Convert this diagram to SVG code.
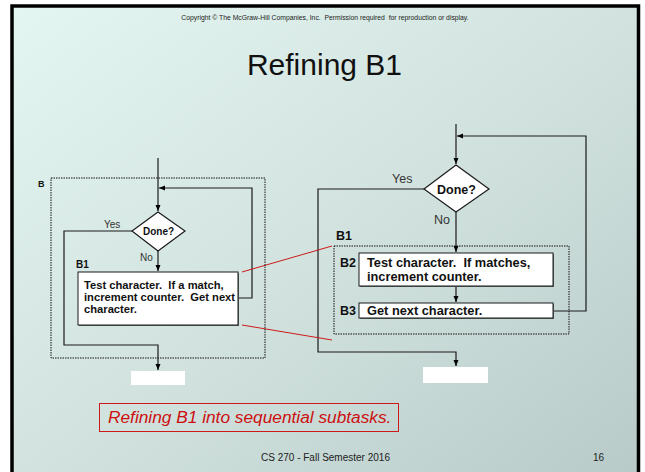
<svg xmlns="http://www.w3.org/2000/svg" width="645" height="472" viewBox="0 0 645 472">
<defs>
<linearGradient id="bg" x1="0" y1="0" x2="1" y2="1">
<stop offset="0" stop-color="#e4f6f1"/>
<stop offset="0.5" stop-color="#d2e3df"/>
<stop offset="1" stop-color="#b7cac8"/>
</linearGradient>
<marker id="arr" markerUnits="userSpaceOnUse" markerWidth="8" markerHeight="8" viewBox="0 0 8 8" refX="7" refY="4" orient="auto">
<path d="M1,1.5 L7,4 L1,6.5 Z" fill="#000"/>
</marker>
<style>
.ln{fill:none;stroke:#1a1a1a;stroke-width:1.2}
.dot{fill:none;stroke:#111;stroke-width:1;stroke-dasharray:1.5 1}
.box{fill:#fff;stroke:#1a1a1a;stroke-width:1}
.sh{fill:#5a6665}
.wh{fill:#fff}
.red{stroke:#cc1a1a;stroke-width:1;fill:none}
text{font-family:"Liberation Sans",Arial,sans-serif;white-space:pre}
.b{font-weight:bold;fill:#111}
.lab{fill:#333}
</style>
</defs>
<rect x="0" y="0" width="645" height="472" fill="#fff"/>
<rect x="12" y="6" width="626.5" height="480" fill="url(#bg)" stroke="#000" stroke-width="3.5"/>
<text x="325" y="19.5" font-size="6.8" text-anchor="middle" fill="#222">Copyright © The McGraw-Hill Companies, Inc.  Permission required  for reproduction or display.</text>
<text x="324.5" y="75" font-size="30" text-anchor="middle" fill="#111">Refining B1</text>

<g id="connectors">
<path class="ln" d="M158,158 V211" marker-end="url(#arr)"/>
<path class="ln" d="M239,298 H252 V188 H159" marker-end="url(#arr)"/>
<path class="ln" d="M132,231 H64 V345 H158 V370" marker-end="url(#arr)"/>
<path class="ln" d="M158,251 V271" marker-end="url(#arr)"/>
<path class="ln" d="M456,124 V164" marker-end="url(#arr)"/>
<path class="ln" d="M553,311 H586 V136 H457" marker-end="url(#arr)"/>
<path class="ln" d="M424,189 H318 V352 H456 V366" marker-end="url(#arr)"/>
<path class="ln" d="M456,212 V252" marker-end="url(#arr)"/>
<path class="ln" d="M456,286 V302" marker-end="url(#arr)"/>
<path class="red" d="M242,272 L332,246"/>
<path class="red" d="M242,325 L332,340"/>
</g>

<g id="B">
<rect class="dot" x="51" y="178" width="214" height="180"/>
<text class="b" x="38" y="187" font-size="9">B</text>
</g>
<g id="doneL">
<polygon points="158,212 185,231 158,251 132,231" fill="#fff" stroke="#1a1a1a" stroke-width="1.2"/>
<text class="b" x="158.5" y="234.5" font-size="10" text-anchor="middle">Done?</text>
<text class="lab" x="104" y="228" font-size="10">Yes</text>
<text class="lab" x="140" y="261" font-size="10">No</text>
</g>
<g id="B1L">
<text class="b" x="76" y="268" font-size="10">B1</text>
<rect class="sh" x="79" y="273" width="160" height="53"/>
<rect class="box" x="78" y="272" width="160" height="53"/>
<text class="b" x="84" y="289" font-size="11.2">Test character.  If a match,</text>
<text class="b" x="84" y="301" font-size="11.2">increment counter.  Get next</text>
<text class="b" x="84" y="313" font-size="11.2">character.</text>
</g>
<g id="outL"><rect class="wh" x="131" y="371" width="54" height="14"/></g>

<g id="doneR">
<polygon points="456,165 489,189 456,212 424,189" fill="#fff" stroke="#1a1a1a" stroke-width="1.2"/>
<text class="b" x="456.5" y="193.5" font-size="12.5" text-anchor="middle">Done?</text>
<text class="lab" x="392" y="183" font-size="12.5">Yes</text>
<text class="lab" x="434" y="224" font-size="12.5">No</text>
</g>
<g id="B1R">
<rect class="dot" x="334" y="246" width="235" height="88"/>
<text class="b" x="336" y="240" font-size="12.5">B1</text>
</g>
<g id="B2">
<text class="b" x="340" y="267" font-size="12.5">B2</text>
<rect class="sh" x="360" y="254" width="194" height="33"/>
<rect class="box" x="359" y="253" width="194" height="33"/>
<text class="b" x="367" y="266.5" font-size="12.8">Test character.  If matches,</text>
<text class="b" x="367" y="281" font-size="12.8">increment counter.</text>
</g>
<g id="B3">
<text class="b" x="340" y="314.5" font-size="12.5">B3</text>
<rect class="sh" x="360" y="304" width="194" height="15"/>
<rect class="box" x="359" y="303" width="194" height="15"/>
<text class="b" x="367" y="314.5" font-size="12.8">Get next character.</text>
</g>
<g id="outR"><rect class="wh" x="423" y="367" width="65" height="16"/></g>

<g id="caption">
<rect x="99.5" y="403.5" width="299" height="28" fill="none" stroke="#cc1a1a" stroke-width="1"/>
<text x="108" y="423" font-size="17.3" font-style="italic" fill="#cc1010">Refining B1 into sequential subtasks.</text>
</g>
<text x="261" y="461" font-size="10" fill="#222">CS 270 - Fall Semester 2016</text>
<text x="593" y="461" font-size="10" fill="#222">16</text>
</svg>
